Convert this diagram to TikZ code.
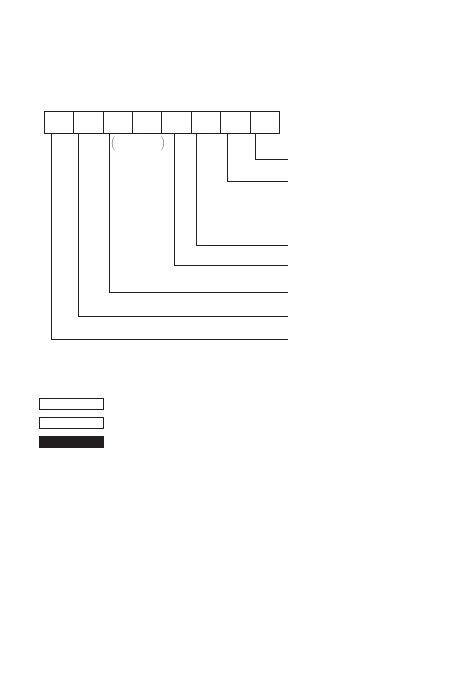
\documentclass[tikz,border=0pt]{standalone}
\usepackage{tikz}
\definecolor{ink}{HTML}{231F20}
\definecolor{paren}{HTML}{6E6E6E}

\begin{document}
\begin{tikzpicture}[
    x=1pt,y=-1pt,line width=1pt,
    cell/.style={draw,ink,minimum width=29.4pt,minimum height=21pt,inner sep=0pt,outer sep=0pt},
    key/.style={draw,ink,minimum width=64.3pt,minimum height=11pt,inner sep=0pt,outer sep=0pt},
    lead/.style={draw,ink},
    brk/.style={paren,inner sep=0pt,font=\fontsize{15}{16}\selectfont}
    ]
    \useasboundingbox (0, 0) rectangle (476, 674);
    \node[cell] (c1) at (59.0, 122.5) {};
    \node[cell] (c2) at (88.4, 122.5) {};
    \node[cell] (c3) at (117.8, 122.5) {};
    \node[cell] (c4) at (147.2, 122.5) {};
    \node[cell] (c5) at (176.6, 122.5) {};
    \node[cell] (c6) at (206.0, 122.5) {};
    \node[cell] (c7) at (235.4, 122.5) {};
    \node[cell] (c8) at (264.8, 122.5) {};
    \node[brk] (lp) at (113.4, 143.5) {(};
    \node[brk] (rp) at (162.8, 143.5) {)};
    \coordinate (e8) at (288.3, 159.0);
    \coordinate (e7) at (288.3, 181.0);
    \coordinate (e6) at (288.3, 245.0);
    \coordinate (e5) at (288.3, 265.7);
    \coordinate (e3) at (288.3, 292.3);
    \coordinate (e2) at (288.3, 316.0);
    \coordinate (e1) at (288.3, 339.3);
    \draw[lead] ([xshift=5.7pt]c8.south west) |- (e8);
    \draw[lead] ([xshift=6.3pt]c7.south west) |- (e7);
    \draw[lead] ([xshift=5.3pt]c6.south west) |- (e6);
    \draw[lead] ([xshift=12.3pt]c5.south west) |- (e5);
    \draw[lead] ([xshift=6.6pt]c3.south west) |- (e3);
    \draw[lead] ([xshift=5.2pt]c2.south west) |- (e2);
    \draw[lead] ([xshift=7.0pt]c1.south west) |- (e1);
    \node[key] (k1) at (71.2, 403.8) {};
    \node[key] (k2) at (71.2, 422.8) {};
    \node[key,fill=ink] (k3) at (71.2, 441.9) {};
  \end{tikzpicture}
\end{document}
